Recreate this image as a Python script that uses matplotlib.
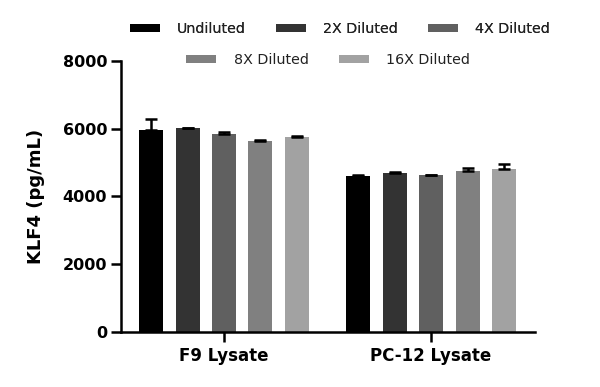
import numpy as np
import matplotlib
matplotlib.use('Agg')
import matplotlib.pyplot as plt
from matplotlib.patches import Patch

# Datos
grupos = ['F9 Lysate', 'PC-12 Lysate']
series = ['Undiluted', '2X Diluted', '4X Diluted', '8X Diluted', '16X Diluted']
colores = ['#000000', '#333333', '#606060', '#808080', '#a2a2a2']
medias = [
    [5970, 4590],   # Undiluted
    [6020, 4685],   # 2X
    [5850, 4645],   # 4X
    [5620, 4735],   # 8X
    [5755, 4815],   # 16X
]
errores = [
    [320, 30],
    [0, 36],
    [58, 0],
    [30, 88],
    [38, 147],
]

plt.rcParams['font.family'] = ['DejaVu Sans']

fig = plt.figure(figsize=(6, 3.87), dpi=100)
ax = fig.add_axes([0.2017, 0.142, 0.69, 0.701])

x = np.arange(len(grupos))
paso = 0.176
ancho = 0.116
for i, (nombre, color) in enumerate(zip(series, colores)):
    pos = x + (i - 2) * paso
    ax.bar(pos, medias[i], width=ancho, color=color, zorder=2)
    ax.errorbar(pos, medias[i], yerr=[np.zeros(len(grupos)), errores[i]],
                fmt='none', ecolor='black', elinewidth=1.8, capsize=4.5,
                capthick=1.8, zorder=3)

ax.set_xlim(-0.4976, 1.502)
ax.set_ylim(0, 8000)
ax.set_yticks([0, 2000, 4000, 6000, 8000])
ax.set_xticks(x)
ax.set_xticklabels(grupos, fontsize=12, fontweight='bold')
ax.set_ylabel('KLF4 (pg/mL)', fontsize=13, fontweight='bold', labelpad=13)
for lab in ax.get_yticklabels():
    lab.set_fontsize(11.5)
    lab.set_fontweight('bold')
for s in ['top', 'right']:
    ax.spines[s].set_visible(False)
for s in ['left', 'bottom']:
    ax.spines[s].set_linewidth(1.8)
ax.tick_params(axis='y', width=1.8, length=7, pad=3)
ax.tick_params(axis='x', width=1.8, length=7, pad=4)

# Leyenda en dos filas centradas
manijas = [Patch(facecolor=c, edgecolor='none') for c in colores]
kw = dict(frameon=False, fontsize=10.3, handlelength=2.1, handleheight=0.5,
          handletextpad=1.2, columnspacing=2.1, borderaxespad=0,
          borderpad=0, labelcolor='#222222')
fila1 = fig.legend(manijas[:3], series[:3], ncol=3, loc='center',
                   bbox_to_anchor=(340 / 600, 1 - 29 / 387), **kw)
fig.legend(manijas[3:], series[3:], ncol=2, loc='center',
           bbox_to_anchor=(328 / 600, 1 - 60 / 387), **kw)
fig.add_artist(fila1)

plt.savefig('out.png', dpi=100)
